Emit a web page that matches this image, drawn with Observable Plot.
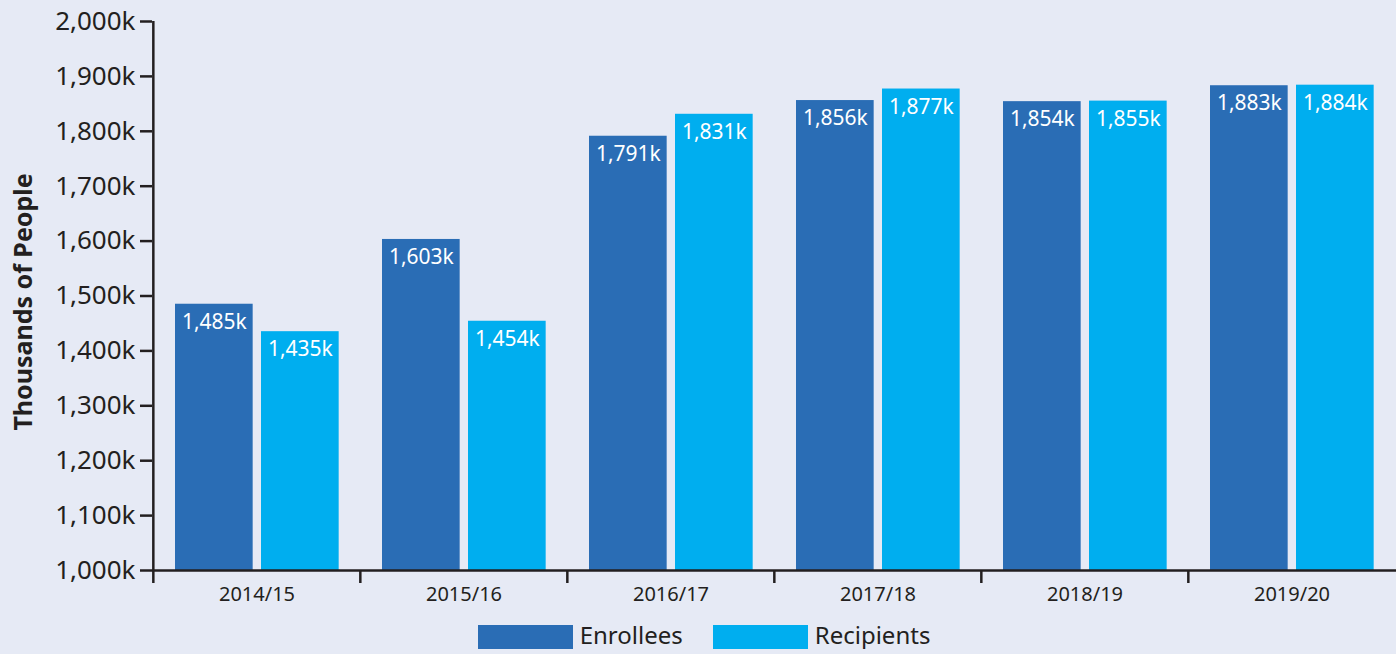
<!DOCTYPE html>
<html>
<head>
<meta charset="utf-8">
<script src="https://cdn.jsdelivr.net/npm/d3@7"></script>
<script src="https://cdn.jsdelivr.net/npm/@observablehq/plot@0.6"></script>
<style>
  html, body { margin: 0; padding: 0; background: #e6eaf5; }
  #chart svg { display: block; }
  #legend { display: flex; justify-content: center; align-items: center; height: 24px; margin-top: 7px; padding-left: 12px;
            font-family: "Noto Sans", sans-serif; font-size: 24px; line-height: 24px; color: #231f20; }
  .item { display: flex; align-items: center; margin: 0 15px; }
  .sw { width: 95px; height: 24px; margin-right: 7px; }
  .lab { position: relative; top: -2px; }
</style>
</head>
<body>
<div id="chart"></div>
<div id="legend"></div>
<script>
const years = ["2014/15", "2015/16", "2016/17", "2017/18", "2018/19", "2019/20"];
const enrollees = [1485, 1603, 1791, 1856, 1854, 1883];
const recipients = [1435, 1454, 1831, 1877, 1855, 1884];
const seriesNames = ["Enrollees", "Recipients"];
const seriesColors = ["#2a6db5", "#00aeef"];
const yTicks = [1000, 1100, 1200, 1300, 1400, 1500, 1600, 1700, 1800, 1900, 2000];
const yTitle = "Thousands of People";

const rows = years.flatMap((y, i) => [
  {year: y, series: seriesNames[0], value: enrollees[i]},
  {year: y, series: seriesNames[1], value: recipients[i]}
]);
const fmt = d => d3.format(",")(d) + "k";

const W = 1396, ML = 152, MR = 0;
const band = (W - ML - MR) / years.length;
const ink = "#231f20";

const enr = rows.filter(d => d.series === seriesNames[0]);
const rec = rows.filter(d => d.series === seriesNames[1]);

const plot = Plot.plot({
  width: W, height: 618,
  marginTop: 21, marginBottom: 48, marginLeft: ML, marginRight: MR,
  style: {background: "transparent", fontFamily: "'Noto Sans', sans-serif", color: ink, overflow: "visible"},
  x: {domain: years, padding: 0, axis: null},
  y: {domain: [yTicks[0], yTicks[yTicks.length - 1]], axis: null},
  color: {domain: seriesNames, range: seriesColors},
  marks: [
    Plot.barY(enr, {x: "year", y1: yTicks[0], y2: "value", fill: "series", insetLeft: 22, insetRight: band - 100}),
    Plot.barY(rec, {x: "year", y1: yTicks[0], y2: "value", fill: "series", insetLeft: 108, insetRight: band - 186}),
    Plot.text(enr, {x: "year", y: "value", text: d => fmt(d.value), dx: 61 - band / 2, dy: 18, fill: "white", fontSize: 21}),
    Plot.text(rec, {x: "year", y: "value", text: d => fmt(d.value), dx: 147 - band / 2, dy: 18, fill: "white", fontSize: 21}),
    Plot.ruleY([yTicks[0]], {stroke: ink, strokeWidth: 2.5}),
    Plot.ruleX([years[0]], {dx: -band / 2, y1: yTicks[0], y2: yTicks[yTicks.length - 1], stroke: ink, strokeWidth: 2.5}),
    Plot.ruleX(years, {x: d => d, dx: -band / 2, insetTop: 549, insetBottom: -13, stroke: ink, strokeWidth: 2.5}),
    Plot.axisY({ticks: yTicks, tickSize: 12, tickPadding: 5, tickFormat: fmt, fontSize: 26, strokeWidth: 2.5, stroke: ink, fill: ink, label: null}),
    Plot.axisX({tickSize: 0, tickPadding: 16, fontSize: 20, fill: ink, label: null}),
    Plot.text([yTitle], {frameAnchor: "left", textAnchor: "middle", rotate: -90, dx: -129, dy: 6, fontSize: 25, fontWeight: "bold", fill: ink})
  ]
});
document.getElementById("chart").append(plot);

const legend = document.getElementById("legend");
seriesNames.forEach((name, i) => {
  const item = document.createElement("div");
  item.className = "item";
  const sw = document.createElement("div");
  sw.className = "sw";
  sw.style.background = seriesColors[i];
  const lab = document.createElement("span");
  lab.className = "lab";
  lab.textContent = name;
  item.append(sw, lab);
  legend.append(item);
});
</script>
</body>
</html>
